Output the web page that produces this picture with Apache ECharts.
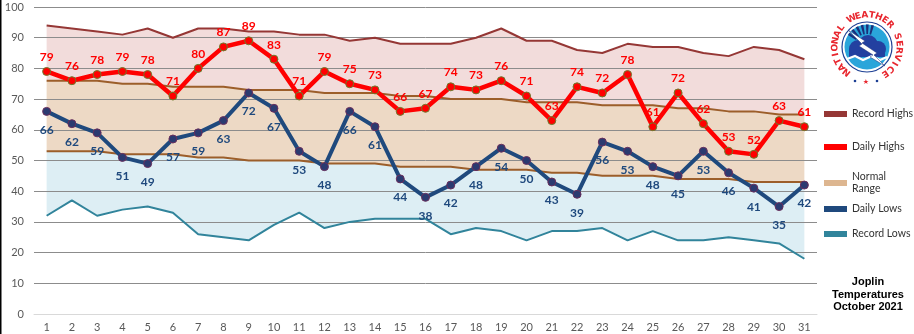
<!DOCTYPE html>
<html>
<head>
<meta charset="utf-8">
<script src="https://cdn.jsdelivr.net/npm/echarts@6/dist/echarts.min.js"></script>
<style>
  html, body { margin: 0; padding: 0; background: #fff; }
  #chart { width: 914px; height: 334px; }
</style>
</head>
<body>
<div id="chart"></div>
<script>
// Joplin daily temperatures, October 2021 (°F)
const days = Array.from({ length: 31 }, (_, i) => String(i + 1));
const recordHighs = [94,93,92,91,93,90,93,93,92,92,91,91,89,90,88,88,88,90,93,89,89,86,85,88,87,87,85,84,87,86,83];
const normalHighs = [76,76,76,75,75,74,74,74,73,73,73,72,72,72,71,71,70,70,70,69,69,69,68,68,68,67,67,66,66,65,65];
const normalLows  = [53,53,53,52,52,52,51,51,50,50,50,49,49,49,48,48,48,47,47,47,46,46,45,45,45,44,44,44,43,43,43];
const recordLows  = [32,37,32,34,35,33,26,25,24,29,33,28,30,31,31,31,26,28,27,24,27,27,28,24,27,24,24,25,24,23,18];
const dailyHighs  = [79,76,78,79,78,71,80,87,89,83,71,79,75,73,66,67,74,73,76,71,63,74,72,78,61,72,62,53,52,63,61];
const dailyLows   = [66,62,59,51,49,57,59,63,72,67,53,48,66,61,44,38,42,48,54,50,43,39,56,53,48,45,53,46,41,35,42];
const yTicks = { min: 0, max: 100, step: 10 };

const diff = (a, b) => a.map((v, i) => v - b[i]);

const FONT = 'Lato, "Open Sans", sans-serif';
const C = {
  recHigh: '#953735', recLow: '#31849B', normal: '#9C5E2A',
  high: '#FF0000', low: '#1F497D',
  pink: '#F2DCDB', tan: '#EDD9C5', blue: '#DDEEF4'
};

// stacked bands: record low -> normal low -> normal high -> record high
function band(name, data, fill) {
  return {
    name, type: 'line', stack: 'bands', data, z: 1,
    symbol: 'none', silent: true,
    lineStyle: { width: 0, opacity: 0 },
    itemStyle: { color: fill },
    areaStyle: fill ? { color: fill, opacity: 1 } : undefined
  };
}
function plainLine(name, data, color, width) {
  return {
    name, type: 'line', data, z: 3, symbol: 'none', silent: true,
    lineStyle: { color, width }, itemStyle: { color }
  };
}

// logo: "NATIONAL WEATHER SERVICE" around a round emblem
function logo(cx, cy) {
  const words = ['NATIONAL', 'WEATHER', 'SERVICE'];
  const start = -141, end = 146, R = 32;
  const slots = [];
  words.forEach((w, wi) => { for (const ch of w) slots.push(ch); if (wi < words.length - 1) slots.push(null); });
  const step = (end - start) / (slots.length - 1);
  const els = [];
  slots.forEach((ch, i) => {
    if (!ch) return;
    const a = (start + step * i) * Math.PI / 180;
    els.push({
      type: 'text', x: cx + R * Math.sin(a), y: cy - R * Math.cos(a), rotation: -a,
      style: { text: ch, fill: '#E8262E', font: 'bold 9px "DejaVu Sans", sans-serif',
               align: 'center', verticalAlign: 'middle', textAlign: 'center', textVerticalAlign: 'middle' }
    });
  });
  els.push(
    { type: 'circle', shape: { cx, cy, r: 25 }, style: { fill: '#fff', stroke: '#1C3F94', lineWidth: 1.2 } },
    { type: 'circle', shape: { cx, cy, r: 22.5 }, style: { fill: '#2AA5DA' } }
  );
  for (let k = 0; k < 6; k++) {
    const a0 = -Math.PI * 0.82 + k * 0.24;
    els.push({ type: 'sector', shape: { cx, cy, r0: 13, r: 22.5, startAngle: a0, endAngle: a0 + 0.12 },
               style: { fill: '#1B2F7A' } });
  }
  els.push(
    { type: 'circle', shape: { cx: cx - 9, cy: cy + 2, r: 9 }, style: { fill: '#2340A0' } },
    { type: 'circle', shape: { cx: cx + 1, cy: cy - 2, r: 10 }, style: { fill: '#2340A0' } },
    { type: 'circle', shape: { cx: cx + 11, cy: cy + 2, r: 8 }, style: { fill: '#2340A0' } },
    { type: 'rect', shape: { x: cx - 18, y: cy + 2, width: 36, height: 8 }, style: { fill: '#2340A0' } },
    { type: 'polyline', shape: { points: [[cx - 20, cy + 12], [cx - 12, cy + 9], [cx - 4, cy + 13], [cx + 5, cy + 9], [cx + 13, cy + 13], [cx + 20, cy + 10]] },
      style: { stroke: '#fff', lineWidth: 2.2, fill: null } },
    { type: 'polygon', shape: { points: [[cx - 19, cy - 17], [cx - 2, cy - 6], [cx - 5, cy - 4], [cx + 10, cy + 6],
        [cx + 7, cy + 8], [cx + 18, cy + 19], [cx + 3, cy + 10], [cx + 6, cy + 8], [cx - 8, cy - 1], [cx - 5, cy - 3]] },
      style: { fill: '#fff', stroke: '#1B2F7A', lineWidth: 0.5 } },
    { type: 'circle', shape: { cx: cx - 12, cy: cy + 34, r: 1.3 }, style: { fill: '#1C3F94' } },
    { type: 'circle', shape: { cx: cx + 10, cy: cy + 34, r: 1.3 }, style: { fill: '#1C3F94' } },
    { type: 'text', x: cx - 1, y: cy + 35,
      style: { text: '★', fill: '#E8262E', font: '7px "DejaVu Sans", sans-serif',
               align: 'center', verticalAlign: 'middle', textAlign: 'center', textVerticalAlign: 'middle' } }
  );
  return els;
}

function legendAt(name, top, color, formatter) {
  return {
    data: [{ name, icon: 'rect', itemStyle: { color, opacity: 1, borderWidth: 0 } }],
    left: 824, top, padding: 0, itemWidth: 23, itemHeight: 6, itemGap: 7,
    selectedMode: false, formatter: formatter || '{name}',
    textStyle: { fontFamily: FONT, fontSize: 10.5, color: '#333', lineHeight: 12 }
  };
}

const chart = echarts.init(document.getElementById('chart'), null, { renderer: 'canvas' });
chart.setOption({
  animation: false,
  backgroundColor: '#fff',
  grid: { left: 34, right: 97, top: 7, bottom: 20, containLabel: false },
  xAxis: {
    type: 'category', data: days, boundaryGap: true,
    axisLine: { lineStyle: { color: '#D9D9D9', width: 1 } },
    axisTick: { show: false },
    axisLabel: { color: '#595959', fontFamily: FONT, fontSize: 11, margin: 8, interval: 0 }
  },
  yAxis: {
    type: 'value', min: yTicks.min, max: yTicks.max, interval: yTicks.step, z: 2,
    axisLine: { show: false }, axisTick: { show: false },
    axisLabel: { color: '#595959', fontFamily: FONT, fontSize: 11, margin: 10 },
    splitLine: { lineStyle: { color: ['#D9D9D9','#8C8C8C','#8C8C8C','#8C8C8C','#8C8C8C','#8C8C8C','#8C8C8C','#8C8C8C','#8C8C8C','#8C8C8C','#8C8C8C'], width: 1 } }
  },
  legend: [
    legendAt('Record Highs', 108, C.recHigh),
    legendAt('Daily Highs', 141, C.high),
    legendAt('Normal Range', 171, '#DDB690', 'Normal\nRange'),
    legendAt('Daily Lows', 203, C.low),
    legendAt('Record Lows', 228, C.recLow)
  ],
  graphic: [
    { type: 'rect', shape: { x: 0, y: 0, width: 1.5, height: 334 }, style: { fill: '#000' } },
    { type: 'text', x: 868, y: 276,
      style: { text: 'Joplin\nTemperatures\nOctober 2021', fill: '#000',
               font: 'bold 11px "Liberation Sans", Arial, sans-serif', lineHeight: 12.5,
               align: 'center', textAlign: 'center', verticalAlign: 'top', textVerticalAlign: 'top' } },
    ...logo(867, 47)
  ],
  series: [
    band('baseBand', recordLows, null),
    band('lowBand', diff(normalLows, recordLows), C.blue),
    band('Normal Range', diff(normalHighs, normalLows), C.tan),
    band('highBand', diff(recordHighs, normalHighs), C.pink),
    plainLine('Record Highs', recordHighs, C.recHigh, 2),
    plainLine('normalHighLine', normalHighs, C.normal, 2),
    plainLine('normalLowLine', normalLows, C.normal, 2),
    plainLine('Record Lows', recordLows, C.recLow, 2),
    {
      name: 'Daily Highs', type: 'line', data: dailyHighs, z: 4,
      symbol: 'circle', symbolSize: 8,
      lineStyle: { color: C.high, width: 4.5 },
      itemStyle: { color: C.high, borderColor: '#6B7D2E', borderWidth: 1 },
      label: { show: true, position: 'top', distance: 4, color: C.high,
               fontFamily: FONT, fontWeight: 'bold', fontSize: 12 }
    },
    {
      name: 'Daily Lows', type: 'line', data: dailyLows, z: 4,
      symbol: 'circle', symbolSize: 8,
      lineStyle: { color: C.low, width: 4 },
      itemStyle: { color: '#2B3A70', borderColor: '#6A2F5C', borderWidth: 1 },
      label: { show: true, position: 'bottom', distance: 8, color: C.low,
               fontFamily: FONT, fontWeight: 'bold', fontSize: 12 }
    }
  ]
});
</script>
</body>
</html>
